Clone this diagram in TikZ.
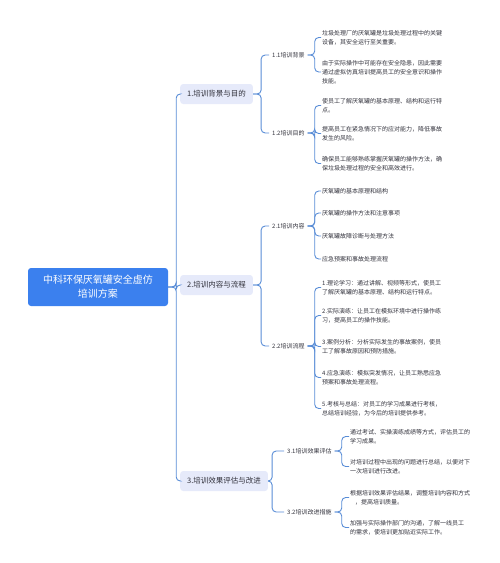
\documentclass[tikz,border=0pt]{standalone}
\usepackage{fontspec}
\setmainfont{Noto Sans CJK SC}
\usepackage{tikz}
\definecolor{rootblue}{RGB}{59,128,238}
\definecolor{topicfill}{RGB}{230,234,250}
\definecolor{linkblue}{RGB}{88,140,214}
\definecolor{txt}{RGB}{50,50,60}
\tikzstyle{root} = [
	rectangle,
	rounded corners=3,
	fill=rootblue,
	text=white,
	minimum width=140,
	minimum height=38,
	align=center,
	font=\fontsize{10}{14}\selectfont
]
\tikzstyle{topic} = [
	rectangle,
	rounded corners=3,
	fill=topicfill,
	text=txt,
	minimum height=20,
	inner xsep=7,
	anchor=west,
	font=\fontsize{7.5}{9}\selectfont
]
\tikzstyle{sub} = [anchor=west, inner xsep=3, inner ysep=1.5, text=txt, font=\fontsize{6}{8}\selectfont]
\tikzstyle{leaf} = [anchor=west, inner sep=1, align=left, text=txt, font=\fontsize{6}{9}\selectfont]
\tikzstyle{link} = [draw=linkblue, line width=0.9, rounded corners=4]

\begin{document}
\begin{tikzpicture}[x=1pt, y=-1pt]
    \useasboundingbox (0,0) rectangle (500,563);
    \node[root] at (98, 287) (main) {中科环保厌氧罐安全虚仿\\培训方案};
    % first level
    \node[topic] at (180, 94) (t1) {1.培训背景与目的};
    \node[topic] at (180, 285) (t2) {2.培训内容与流程};
    \node[topic] at (180, 481) (t3) {3.培训效果评估与改进};
    % second level
    \node[sub] at (269, 55) (t11) {1.1培训背景};
    \node[sub] at (269, 133) (t12) {1.2培训目的};
    \node[sub] at (269, 226) (t21) {2.1培训内容};
    \node[sub] at (269, 346) (t22) {2.2培训流程};
    \node[sub] at (284, 451) (t31) {3.1培训效果评估};
    \node[sub] at (284, 512) (t32) {3.2培训改进措施};
    % leaves
    \node[leaf] at (321, 37.5) (a1) {垃圾处理厂的厌氧罐是垃圾处理过程中的关键\\设备，其安全运行至关重要。};
    \node[leaf] at (321, 72) (a2) {由于实际操作中可能存在安全隐患，因此需要\\通过虚拟仿真培训提高员工的安全意识和操作\\技能。};
    \node[leaf] at (321, 105.5) (b1) {使员工了解厌氧罐的基本原理、结构和运行特\\点。};
    \node[leaf] at (321, 133.5) (b2) {提高员工在紧急情况下的应对能力，降低事故\\发生的风险。};
    \node[leaf] at (321, 163.5) (b3) {确保员工能够熟练掌握厌氧罐的操作方法，确\\保垃圾处理过程的安全和高效进行。};
    \node[leaf] at (321, 191) (c1) {厌氧罐的基本原理和结构};
    \node[leaf] at (321, 213) (c2) {厌氧罐的操作方法和注意事项};
    \node[leaf] at (321, 236) (c3) {厌氧罐故障诊断与处理方法};
    \node[leaf] at (321, 259) (c4) {应急预案和事故处理流程};
    \node[leaf] at (321, 287.5) (d1) {1.理论学习：通过讲解、视频等形式，使员工\\了解厌氧罐的基本原理、结构和运行特点。};
    \node[leaf] at (321, 315.5) (d2) {2.实际演练：让员工在模拟环境中进行操作练\\习，提高员工的操作技能。};
    \node[leaf] at (321, 346.5) (d3) {3.案例分析：分析实际发生的事故案例，使员\\工了解事故原因和预防措施。};
    \node[leaf] at (321, 377.5) (d4) {4.应急演练：模拟突发情况，让员工熟悉应急\\预案和事故处理流程。};
    \node[leaf] at (321, 408.5) (d5) {5.考核与总结：对员工的学习成果进行考核，\\总结培训经验，为今后的培训提供参考。};
    \node[leaf] at (349, 436.5) (e1) {通过考试、实操演练成绩等方式，评估员工的\\学习成果。};
    \node[leaf] at (349, 466.5) (e2) {对培训过程中出现的问题进行总结，以便对下\\一次培训进行改进。};
    \node[leaf] at (349, 497.5) (f1) {根据培训效果评估结果，调整培训内容和方式\\ \hspace{5pt}，提高培训质量。};
    \node[leaf] at (349, 527.5) (f2) {加强与实际操作部门的沟通，了解一线员工\\的需求，使培训更加贴近实际工作。};
    % connectors
    \foreach \t in {t1, t2, t3}
      \draw[link] (main.east) -- ++(8,0) |- (\t.west);
    \foreach \s in {t11, t12}
      \draw[link] (t1.east) -- ++(8,0) |- (\s.west);
    \foreach \s in {t21, t22}
      \draw[link] (t2.east) -- ++(8,0) |- (\s.west);
    \foreach \s in {t31, t32}
      \draw[link] (t3.east) -- ++(4,0) |- (\s.west);
    \foreach \l in {a1, a2}
      \draw[link] (t11.east) -- ++(7,0) |- (\l.west);
    \foreach \l in {b1, b2, b3}
      \draw[link] (t12.east) -- ++(7,0) |- (\l.west);
    \foreach \l in {c1, c2, c3, c4}
      \draw[link] (t21.east) -- ++(7,0) |- (\l.west);
    \foreach \l in {d1, d2, d3, d4, d5}
      \draw[link] (t22.east) -- ++(7,0) |- (\l.west);
    \foreach \l in {e1, e2}
      \draw[link] (t31.east) -- ++(7,0) |- (\l.west);
    \foreach \l in {f1, f2}
      \draw[link] (t32.east) -- ++(7,0) |- (\l.west);
  \end{tikzpicture}
\end{document}
